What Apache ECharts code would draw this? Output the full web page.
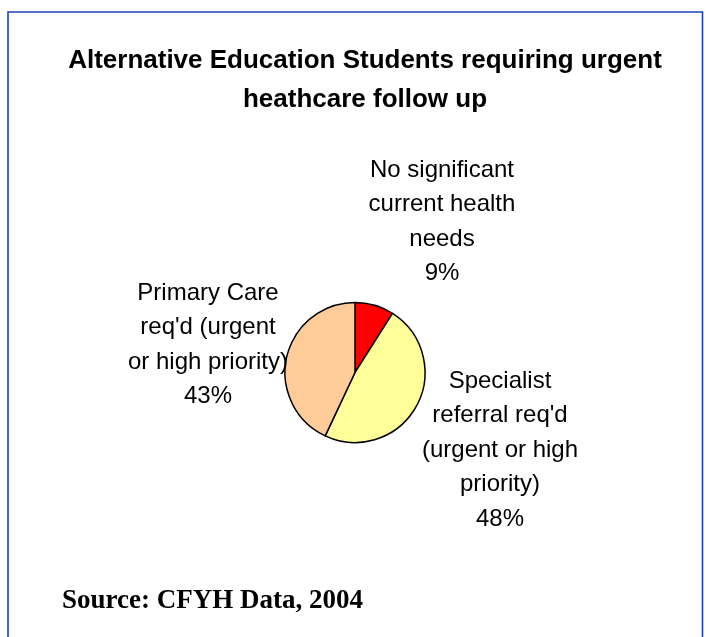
<!DOCTYPE html>
<html>
<head>
<meta charset="utf-8">
<script src="https://cdn.jsdelivr.net/npm/echarts@6/dist/echarts.min.js"></script>
<style>
html,body{margin:0;padding:0;background:#fff;}
#chart{width:708px;height:637px;}
</style>
</head>
<body>
<div id="chart"></div>
<script>
const categories = [
  "No significant\ncurrent health\nneeds",
  "Specialist\nreferral req'd\n(urgent or high\npriority)",
  "Primary Care\nreq'd (urgent\nor high priority)"
];
const values = [9, 48, 43];
const sliceColors = ['#FF0000', '#FFFF99', '#FFCC99'];
const titleText = 'Alternative Education Students requiring urgent\nheathcare follow up';
const sourceText = 'Source: CFYH Data, 2004';

const labelPos = [
  {x: 442, y: 222},
  {x: 500, y: 450},
  {x: 208, y: 345}
];

const chart = echarts.init(document.getElementById('chart'), null, {renderer: 'canvas'});
chart.setOption({
  backgroundColor: '#ffffff',
  animation: false,
  title: {
    text: titleText,
    left: 360,
    textAlign: 'center',
    top: 36,
    textStyle: {
      fontFamily: 'Liberation Sans, Arial, sans-serif',
      fontWeight: 'bold',
      fontSize: 26,
      lineHeight: 39,
      color: '#000'
    }
  },
  graphic: [
    {
      type: 'polyline',
      shape: {points: [[8, 637], [8, 12], [702.5, 12], [702.5, 637]]},
      style: {stroke: '#1E40B4', lineWidth: 1.6, fill: null},
      silent: true
    },
    {
      type: 'text',
      left: 62,
      top: 588,
      style: {
        text: sourceText,
        font: 'bold 27px "Liberation Serif", "Times New Roman", serif',
        fill: '#000'
      }
    }
  ],
  series: [{
    type: 'pie',
    center: [355, 372.5],
    radius: 70,
    startAngle: 90,
    clockwise: true,
    percentPrecision: 0,
    data: categories.map((c, i) => ({
      name: c,
      value: values[i],
      itemStyle: {color: sliceColors[i]}
    })),
    itemStyle: {borderColor: '#000', borderWidth: 1.5},
    emphasis: {disabled: true},
    labelLine: {show: false},
    label: {
      show: true,
      position: 'outside',
      formatter: '{b}\n{d}%',
      fontFamily: 'Liberation Sans, Arial, sans-serif',
      fontSize: 24,
      lineHeight: 34.5,
      color: '#000',
      align: 'center'
    },
    labelLayout: function (params) {
      const p = labelPos[params.dataIndex];
      return {x: p.x, y: p.y, align: 'center', verticalAlign: 'middle'};
    }
  }]
});
</script>
</body>
</html>
